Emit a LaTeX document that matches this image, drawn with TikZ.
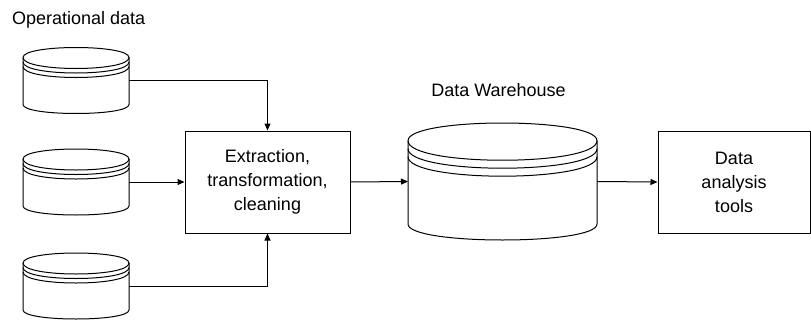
\documentclass[tikz,border=0pt]{standalone}
\usepackage{fontspec}
\setmainfont{Liberation Sans}
\usetikzlibrary{arrows.meta,calc}
\newcommand\dstore[5]{% name, cx, cy, w, h
  \node[inner sep=0pt,outer sep=0pt,minimum width=#4pt,minimum height=#5pt] (#1) at (#2,#3) {};
  \pgfmathsetmacro\dsk{#5/66}
  \pgfmathsetmacro\dsL{#2-#4/2}
  \pgfmathsetmacro\dsR{#2+#4/2}
  \pgfmathsetmacro\dsT{#3-#5/2}
  \pgfmathsetmacro\dsB{#3+#5/2}
  \draw[shapeline,fill=white] (\dsL,\dsT+10*\dsk)
     .. controls (\dsL,\dsT-3.333*\dsk) and (\dsR,\dsT-3.333*\dsk) .. (\dsR,\dsT+10*\dsk)
     -- (\dsR,\dsB-9*\dsk)
     .. controls (\dsR,\dsB+3*\dsk) and (\dsL,\dsB+3*\dsk) .. (\dsL,\dsB-9*\dsk)
     -- cycle;
  \foreach \i in {0,1,2}{
    \draw[shapeline] (\dsL,\dsT+10*\dsk+4.5*\i*\dsk)
      .. controls (\dsL,\dsT+24.67*\dsk+4.5*\i*\dsk) and (\dsR,\dsT+24.67*\dsk+4.5*\i*\dsk)
      .. (\dsR,\dsT+10*\dsk+4.5*\i*\dsk);
  }
}
\tikzset{
  shapeline/.style={draw=black,line width=1pt},
  procbox/.style={draw=black,line width=1pt,inner sep=0pt,align=center,
    font=\fontsize{18}{24}\selectfont},
  label/.style={inner sep=0pt,font=\fontsize{18}{24}\selectfont},
  flow/.style={draw=black,line width=1pt,-{Triangle[length=7pt,width=6pt]}}
}
\begin{document}
\begin{tikzpicture}[x=1pt,y=-1pt]
\useasboundingbox (0,0) rectangle (811,324);
\node[label,anchor=base west] (oplabel) at (12,24) {Operational data};
\node[label,anchor=base] (dwlabel) at (498.5,96) {Data Warehouse};
\dstore{c1}{76}{80.5}{106}{66}
\dstore{c2}{76}{182}{106}{66}
\dstore{c3}{76}{286}{106}{66}
\dstore{dw}{502.5}{181.5}{189}{117}
\node[procbox,minimum width=165pt,minimum height=102pt] (etl) at (267.5,182)
  {Extraction,\\transformation,\\cleaning};
\node[procbox,minimum width=152pt,minimum height=102pt] (tools) at (734,182)
  {Data\\analysis\\tools};
\draw[flow] (c1.east) -| (etl.north);
\draw[flow] (c2.east) -- (etl.west);
\draw[flow] (c3.east) -| (etl.south);
\draw[flow] (etl.east) -- (dw.west);
\draw[flow] (dw.east) -- (tools.west);
\end{tikzpicture}
\end{document}
